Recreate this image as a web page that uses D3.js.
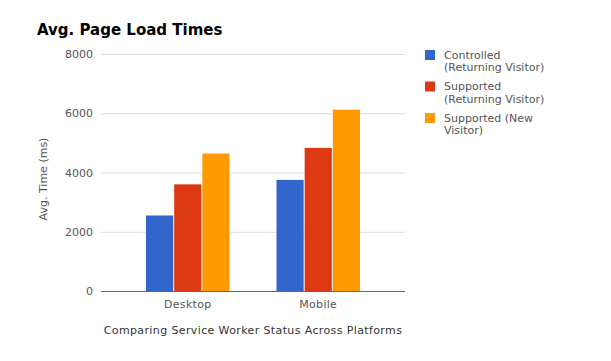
<!DOCTYPE html>
<html>
<head>
<meta charset="utf-8">
<script src="https://cdn.jsdelivr.net/npm/d3@7"></script>
<style>
  body { margin: 0; background: #fff; }
  text { font-family: "DejaVu Sans", Verdana, sans-serif; }
</style>
</head>
<body>
<div id="chart"></div>
<script>
// --- Data ---
const categories = ["Desktop", "Mobile"];
const seriesNames = ["Controlled (Returning Visitor)", "Supported (Returning Visitor)", "Supported (New Visitor)"];
const legendLines = [["Controlled", "(Returning Visitor)"], ["Supported", "(Returning Visitor)"], ["Supported (New", "Visitor)"]];
const controlledReturning = [2550, 3750];
const supportedReturning = [3600, 4830];
const supportedNew = [4640, 6120];
const yTicks = [0, 2000, 4000, 6000, 8000];
const colors = ["#3366cc", "#dc3912", "#ff9900"];

const values = [controlledReturning, supportedReturning, supportedNew];

const width = 611, height = 361;
const plot = { left: 101, right: 405, top: 54, bottom: 291 };

const svg = d3.select("#chart").append("svg")
    .attr("width", width)
    .attr("height", height);

// Title
svg.append("text")
    .attr("x", 37)
    .attr("y", 35)
    .attr("font-size", 15)
    .attr("font-weight", "bold")
    .attr("fill", "#000")
    .text("Avg. Page Load Times");

// Scales
const x0 = d3.scaleBand()
    .domain(categories)
    .range([plot.left, plot.right])
    .paddingInner(0.36)
    .paddingOuter(0.345);

const x1 = d3.scaleBand()
    .domain(d3.range(seriesNames.length))
    .range([0, x0.bandwidth()])
    .paddingInner(0.035);

const y = d3.scaleLinear()
    .domain([0, 8000])
    .range([plot.bottom, plot.top]);

// Gridlines + y tick labels
const yAxis = svg.append("g")
    .attr("transform", `translate(${plot.left},0)`)
    .call(d3.axisLeft(y).tickValues(yTicks).tickFormat(d3.format("d"))
        .tickSize(-(plot.right - plot.left)).tickPadding(8));
yAxis.select(".domain").remove();
yAxis.selectAll(".tick line").attr("stroke", d => d === 0 ? "#666" : "#ddd").attr("stroke-width", 1);
yAxis.selectAll(".tick text")
    .attr("fill", "#555")
    .attr("font-size", 11)
    .style("font-family", "DejaVu Sans, Verdana, sans-serif");

// Bars
const groups = svg.append("g")
    .selectAll("g")
    .data(categories)
    .join("g")
    .attr("transform", d => `translate(${x0(d)},0)`);

groups.selectAll("rect")
    .data((d, i) => values.map((s, k) => ({ k, v: s[i] })))
    .join("rect")
    .attr("x", d => x1(d.k))
    .attr("y", d => y(d.v))
    .attr("width", x1.bandwidth())
    .attr("height", d => y(0) - y(d.v))
    .attr("fill", d => colors[d.k]);

// Baseline on top of bars
svg.append("line")
    .attr("x1", plot.left).attr("x2", plot.right)
    .attr("y1", y(0) + 0.5).attr("y2", y(0) + 0.5)
    .attr("stroke", "#666");

// X axis labels
const xAxis = svg.append("g")
    .attr("transform", `translate(0,${plot.bottom})`)
    .call(d3.axisBottom(x0).tickSize(0).tickPadding(9));
xAxis.select(".domain").remove();
xAxis.selectAll(".tick text")
    .attr("fill", "#555")
    .attr("font-size", 11)
    .attr("letter-spacing", 0.3)
    .style("font-family", "DejaVu Sans, Verdana, sans-serif");

// Axis titles
svg.append("text")
    .attr("x", (plot.left + plot.right) / 2)
    .attr("y", 334)
    .attr("text-anchor", "middle")
    .attr("font-size", 11)
    .attr("letter-spacing", 0.38)
    .attr("fill", "#333")
    .text("Comparing Service Worker Status Across Platforms");

svg.append("text")
    .attr("transform", "translate(47,179) rotate(-90)")
    .attr("text-anchor", "middle")
    .attr("font-size", 11)
    .attr("fill", "#555")
    .text("Avg. Time (ms)");

// Legend
const legend = svg.append("g")
    .selectAll("g")
    .data(seriesNames)
    .join("g")
    .attr("transform", (d, i) => `translate(425,${50 + i * 31.5})`);

legend.append("rect")
    .attr("width", 10)
    .attr("height", 10)
    .attr("fill", (d, i) => colors[i]);

legend.selectAll("text")
    .data((d, i) => legendLines[i])
    .join("text")
    .attr("x", 19)
    .attr("y", (d, j) => 8.5 + j * 12.9)
    .attr("font-size", 11)
    .attr("fill", "#555")
    .text(d => d);
</script>
</body>
</html>
